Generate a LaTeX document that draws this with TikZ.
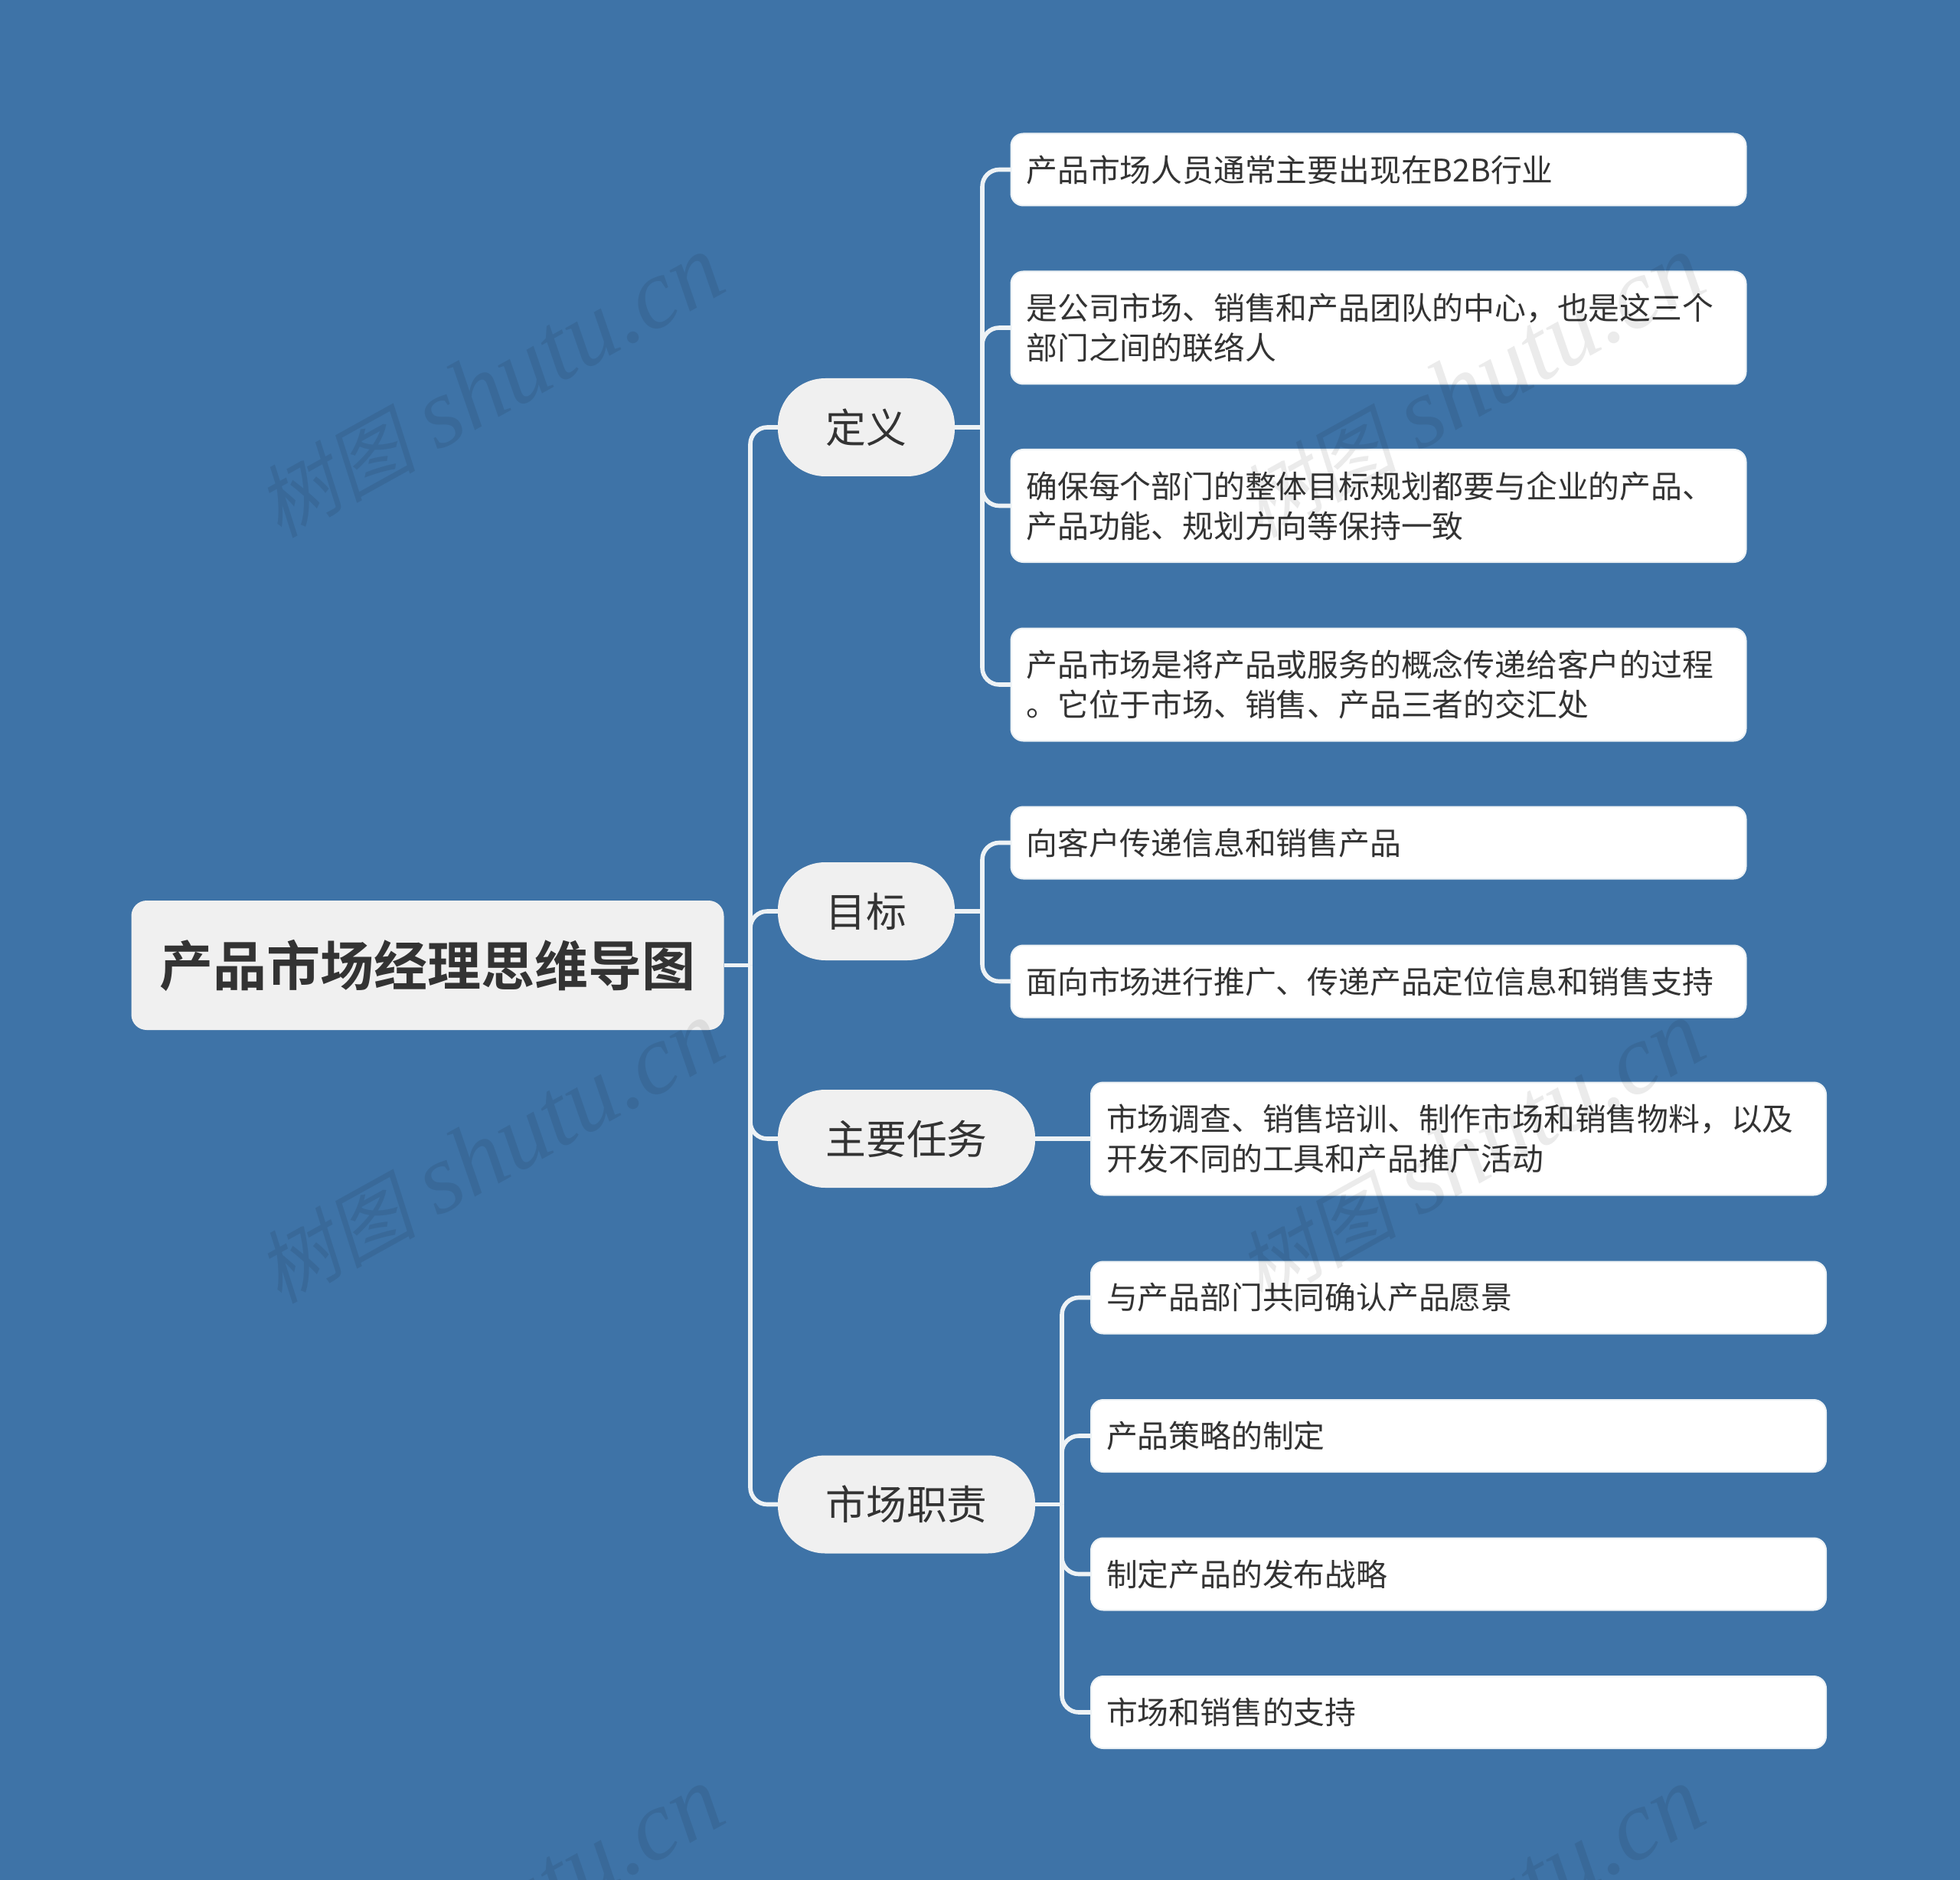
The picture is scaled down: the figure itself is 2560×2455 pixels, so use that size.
\documentclass[tikz,border=0pt]{standalone}
\usepackage{fontspec}
\newfontfamily\cjkreg{Noto Sans CJK SC}
\newfontfamily\cjkbold{Noto Sans CJK SC Bold}
\newfontfamily\wmcjk[FakeSlant=0.2]{Noto Sans CJK SC}
\newfontfamily\wmlat{Liberation Serif}[ItalicFont=* Italic]
\newcommand{\wmtext}{{\wmcjk\fontsize{52}{60}\selectfont 树图}\hspace{14pt}{\wmlat\itshape\fontsize{65}{70}\selectfont shutu.cn}}
\definecolor{bgblue}{HTML}{3E73A7}
\definecolor{nodegray}{HTML}{F0F0F0}
\definecolor{inkgray}{HTML}{333333}
\definecolor{linepale}{HTML}{EDF2F5}
\tikzset{
  x=0.5pt,y=-0.5pt,
  rootbox/.style={rectangle,rounded corners=10pt,fill=nodegray,text=inkgray,minimum width=387pt,minimum height=84.5pt,inner sep=0pt,outer sep=0pt,font=\cjkbold\fontsize{35}{42}\selectfont},
  pill/.style={rectangle,rounded corners=31pt,fill=nodegray,text=inkgray,minimum height=64pt,inner sep=0pt,outer sep=0pt,font=\cjkreg\fontsize{26.4}{32}\selectfont},
  leaf/.style={rectangle,rounded corners=8pt,fill=white,draw=linepale,line width=1pt,text=inkgray,minimum width=480pt,text width=460pt,inner xsep=10pt,inner ysep=0pt,outer sep=0pt,align=left,font=\cjkreg\fontsize{20.4}{26}\selectfont},
  oneline/.style={minimum height=47pt},
  twoline/.style={minimum height=73.5pt},
  conn/.style={draw=linepale,line width=2.8pt},
  curved/.style={conn,rounded corners=11pt},
  wm/.style={text=black,text opacity=0.08,inner sep=0pt,rotate=29}
}
\begin{document}
\begin{tikzpicture}
\useasboundingbox (0,0) rectangle (2560,2455);
\fill[bgblue] (0,0) rectangle (2560,2455);

\node[rootbox] (root) at (558.5,1260.5) {产品市场经理思维导图};
\node[pill,minimum width=115.5pt] (a) at (1131.5,558) {定义};
\node[pill,minimum width=115.5pt] (b) at (1131.5,1190) {目标};
\node[pill,minimum width=168pt] (c) at (1184,1487) {主要任务};
\node[pill,minimum width=168pt] (d) at (1184,1964.5) {市场职责};

\node[leaf,oneline] (a1) at (1800.5,221.5) {产品市场人员通常主要出现在B2B行业};
\node[leaf,twoline] (a2) at (1800.5,428) {是公司市场、销售和产品团队的中心，也是这三个\\部门之间的联络人};
\node[leaf,twoline] (a3) at (1800.5,660.5) {确保每个部门的整体目标规划都要与企业的产品、\\产品功能、规划方向等保持一致};
\node[leaf,twoline] (a4) at (1800.5,894) {产品市场是将产品或服务的概念传递给客户的过程\\。它位于市场、销售、产品三者的交汇处};
\node[leaf,oneline] (b1) at (1800.5,1100.5) {向客户传递信息和销售产品};
\node[leaf,oneline] (b2) at (1800.5,1281.5) {面向市场进行推广、传递产品定位信息和销售支持};
\node[leaf,twoline] (c1) at (1905,1487) {市场调查、销售培训、制作市场和销售物料，以及\\开发不同的工具和产品推广活动};
\node[leaf,oneline] (d1) at (1905,1694.5) {与产品部门共同确认产品愿景};
\node[leaf,oneline] (d2) at (1905,1875) {产品策略的制定};
\node[leaf,oneline] (d3) at (1905,2055.5) {制定产品的发布战略};
\node[leaf,oneline] (d4) at (1905,2236) {市场和销售的支持};

\coordinate (jr) at (980,1260.5);
\coordinate (ja) at (1283,558);
\coordinate (jb) at (1283,1190);
\coordinate (jd) at (1387,1964.5);

\draw[conn] (root.east) -- (jr);
\draw[curved] (jr) |- (a.west);
\draw[curved] (jr) |- (b.west);
\draw[curved] (jr) |- (c.west);
\draw[curved] (jr) |- (d.west);

\draw[conn] (a.east) -- (ja);
\draw[curved] (ja) |- (a1.west);
\draw[curved] (ja) |- (a2.west);
\draw[curved] (ja) |- (a3.west);
\draw[curved] (ja) |- (a4.west);

\draw[conn] (b.east) -- (jb);
\draw[curved] (jb) |- (b1.west);
\draw[curved] (jb) |- (b2.west);

\draw[conn] (c.east) -- (c1.west);

\draw[conn] (d.east) -- (jd);
\draw[curved] (jd) |- (d1.west);
\draw[curved] (jd) |- (d2.west);
\draw[curved] (jd) |- (d3.west);
\draw[curved] (jd) |- (d4.west);

\begin{scope}
\clip (0,0) rectangle (2560,2455);
\node[wm] (w1) at (640,505) {\wmtext};
\node[wm] (w2) at (1921,505) {\wmtext};
\node[wm] (w3) at (640,1505) {\wmtext};
\node[wm] (w4) at (1921,1505) {\wmtext};
\node[wm] (w5) at (640,2505) {\wmtext};
\node[wm] (w6) at (1921,2505) {\wmtext};
\end{scope}
\end{tikzpicture}
\end{document}
